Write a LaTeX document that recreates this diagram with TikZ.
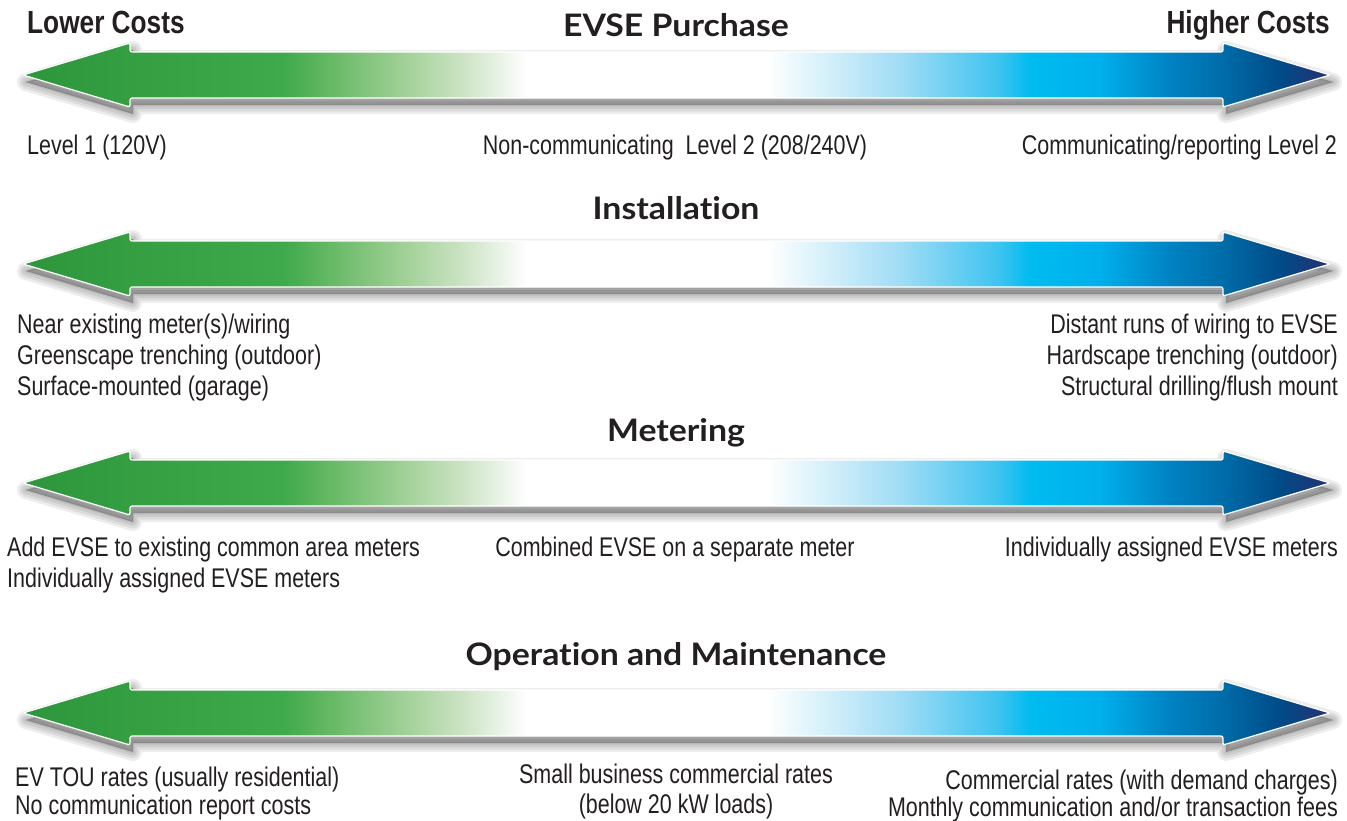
\documentclass[tikz,border=0pt]{standalone}
\usepackage{fontspec}
\setmainfont{Liberation Sans}
\newfontfamily\lblfont[FakeStretch=0.795]{Liberation Sans}
\newfontfamily\costfont[FakeStretch=0.82]{Liberation Sans}
\newfontfamily\ttlfont[FakeStretch=1.09,Ligatures={NoCommon,NoRare}]{Lato}
\definecolor{txt}{RGB}{35,31,32}
\definecolor{g0}{RGB}{45,150,60}
\definecolor{g1}{RGB}{58,165,70}
\definecolor{g2}{RGB}{62,170,75}
\definecolor{g3}{RGB}{95,182,95}
\definecolor{g4}{RGB}{165,210,155}
\definecolor{g5}{RGB}{205,228,198}
\definecolor{b1}{RGB}{160,220,245}
\definecolor{b2}{RGB}{60,195,240}
\definecolor{b3}{RGB}{0,188,240}
\definecolor{b4}{RGB}{0,175,235}
\definecolor{b5}{RGB}{0,130,195}
\definecolor{b6}{RGB}{0,108,168}
\definecolor{b7}{RGB}{0,75,135}
\definecolor{b8}{RGB}{40,48,115}
\pgfdeclarehorizontalshading{evse}{100bp}{color(0bp)=(g0); color(25bp)=(g0); color(32.5bp)=(g1); color(35bp)=(g2); color(36.4bp)=(g3); color(39.8bp)=(g4); color(41.9bp)=(g5); color(44.28bp)=(white); color(53.46bp)=(white); color(58.55bp)=(b1); color(62.37bp)=(b2); color(63.52bp)=(b3); color(66.2bp)=(b4); color(68.88bp)=(b5); color(70.91bp)=(b6); color(73.09bp)=(b7); color(75bp)=(b8); color(100bp)=(b8)}
\newcommand\evsearrow[2]{%
  \foreach \w in {18,13,8,3}{%
    \filldraw[black,opacity=0.07,line width=\w pt,line join=round,shift={(3,7)}]
      (23,#2) -- (130,#2-32) -- (130,#2-23) -- (1223,#2-23) -- (1223,#2-32) -- (1330,#2)
      -- (1223,#2+32) -- (1223,#2+23) -- (130,#2+23) -- (130,#2+32) -- cycle;}
  \shadedraw[shading=evse,draw=white,line width=1.2pt,rounded corners=2pt]
      (23,#2) -- (130,#2-32) -- (130,#2-23) -- (1223,#2-23) -- (1223,#2-32) -- (1330,#2)
      -- (1223,#2+32) -- (1223,#2+23) -- (130,#2+23) -- (130,#2+32) -- cycle;
  \coordinate (#1) at (676,#2);}
\begin{document}
\begin{tikzpicture}[x=1pt,y=-1pt,
  lbl/.style={inner sep=0pt,text=txt,font=\lblfont\fontsize{27}{31}\selectfont},
  cost/.style={inner sep=0pt,text=txt,font=\costfont\bfseries\fontsize{32}{36}\selectfont},
  ttl/.style={inner sep=0pt,text=txt,font=\ttlfont\bfseries\fontsize{31}{36}\selectfont}]
\useasboundingbox[fill=white] (0,0) rectangle (1347,820);
% row 1
\evsearrow{a1}{75}
\node[ttl,anchor=base] (t1) at (676,36) {EVSE Purchase};
\node[cost,anchor=base west] (lc) at (27,33) {Lower Costs};
\node[cost,anchor=base east] (hc) at (1330,33) {Higher Costs};
\node[lbl,anchor=base west] (r1l) at (27,154) {Level 1 (120V)};
\node[lbl,anchor=base] (r1m) at (675,154) {Non-communicating\ \ Level 2 (208/240V)};
\node[lbl,anchor=base east] (r1r) at (1337,154) {Communicating/reporting Level 2};
% row 2
\evsearrow{a2}{264}
\node[ttl,anchor=base] (t2) at (676,219) {Installation};
\node[lbl,anchor=base west] (r2l1) at (17,333) {Near existing meter(s)/wiring};
\node[lbl,anchor=base west] (r2l2) at (17,364) {Greenscape trenching (outdoor)};
\node[lbl,anchor=base west] (r2l3) at (17,395) {Surface-mounted (garage)};
\node[lbl,anchor=base east] (r2r1) at (1338,333) {Distant runs of wiring to EVSE};
\node[lbl,anchor=base east] (r2r2) at (1338,364) {Hardscape trenching (outdoor)};
\node[lbl,anchor=base east] (r2r3) at (1338,395) {Structural drilling/flush mount};
% row 3
\evsearrow{a3}{483}
\node[ttl,anchor=base] (t3) at (676,441) {Metering};
\node[lbl,anchor=base west] (r3l1) at (7,556) {Add EVSE to existing common area meters};
\node[lbl,anchor=base west] (r3l2) at (7,587) {Individually assigned EVSE meters};
\node[lbl,anchor=base] (r3m) at (675,556) {Combined EVSE on a separate meter};
\node[lbl,anchor=base east] (r3r) at (1338,556) {Individually assigned EVSE meters};
% row 4
\evsearrow{a4}{713}
\node[ttl,anchor=base] (t4) at (676,665) {Operation and Maintenance};
\node[lbl,anchor=base west] (r4l1) at (15,786) {EV TOU rates (usually residential)};
\node[lbl,anchor=base west] (r4l2) at (15,814) {No communication report costs};
\node[lbl,anchor=base] (r4m1) at (676,783) {Small business commercial rates};
\node[lbl,anchor=base] (r4m2) at (676,813) {(below 20 kW loads)};
\node[lbl,anchor=base east] (r4r1) at (1338,789) {Commercial rates (with demand charges)};
\node[lbl,anchor=base east] (r4r2) at (1338,816) {Monthly communication and/or transaction fees};
\end{tikzpicture}
\end{document}
